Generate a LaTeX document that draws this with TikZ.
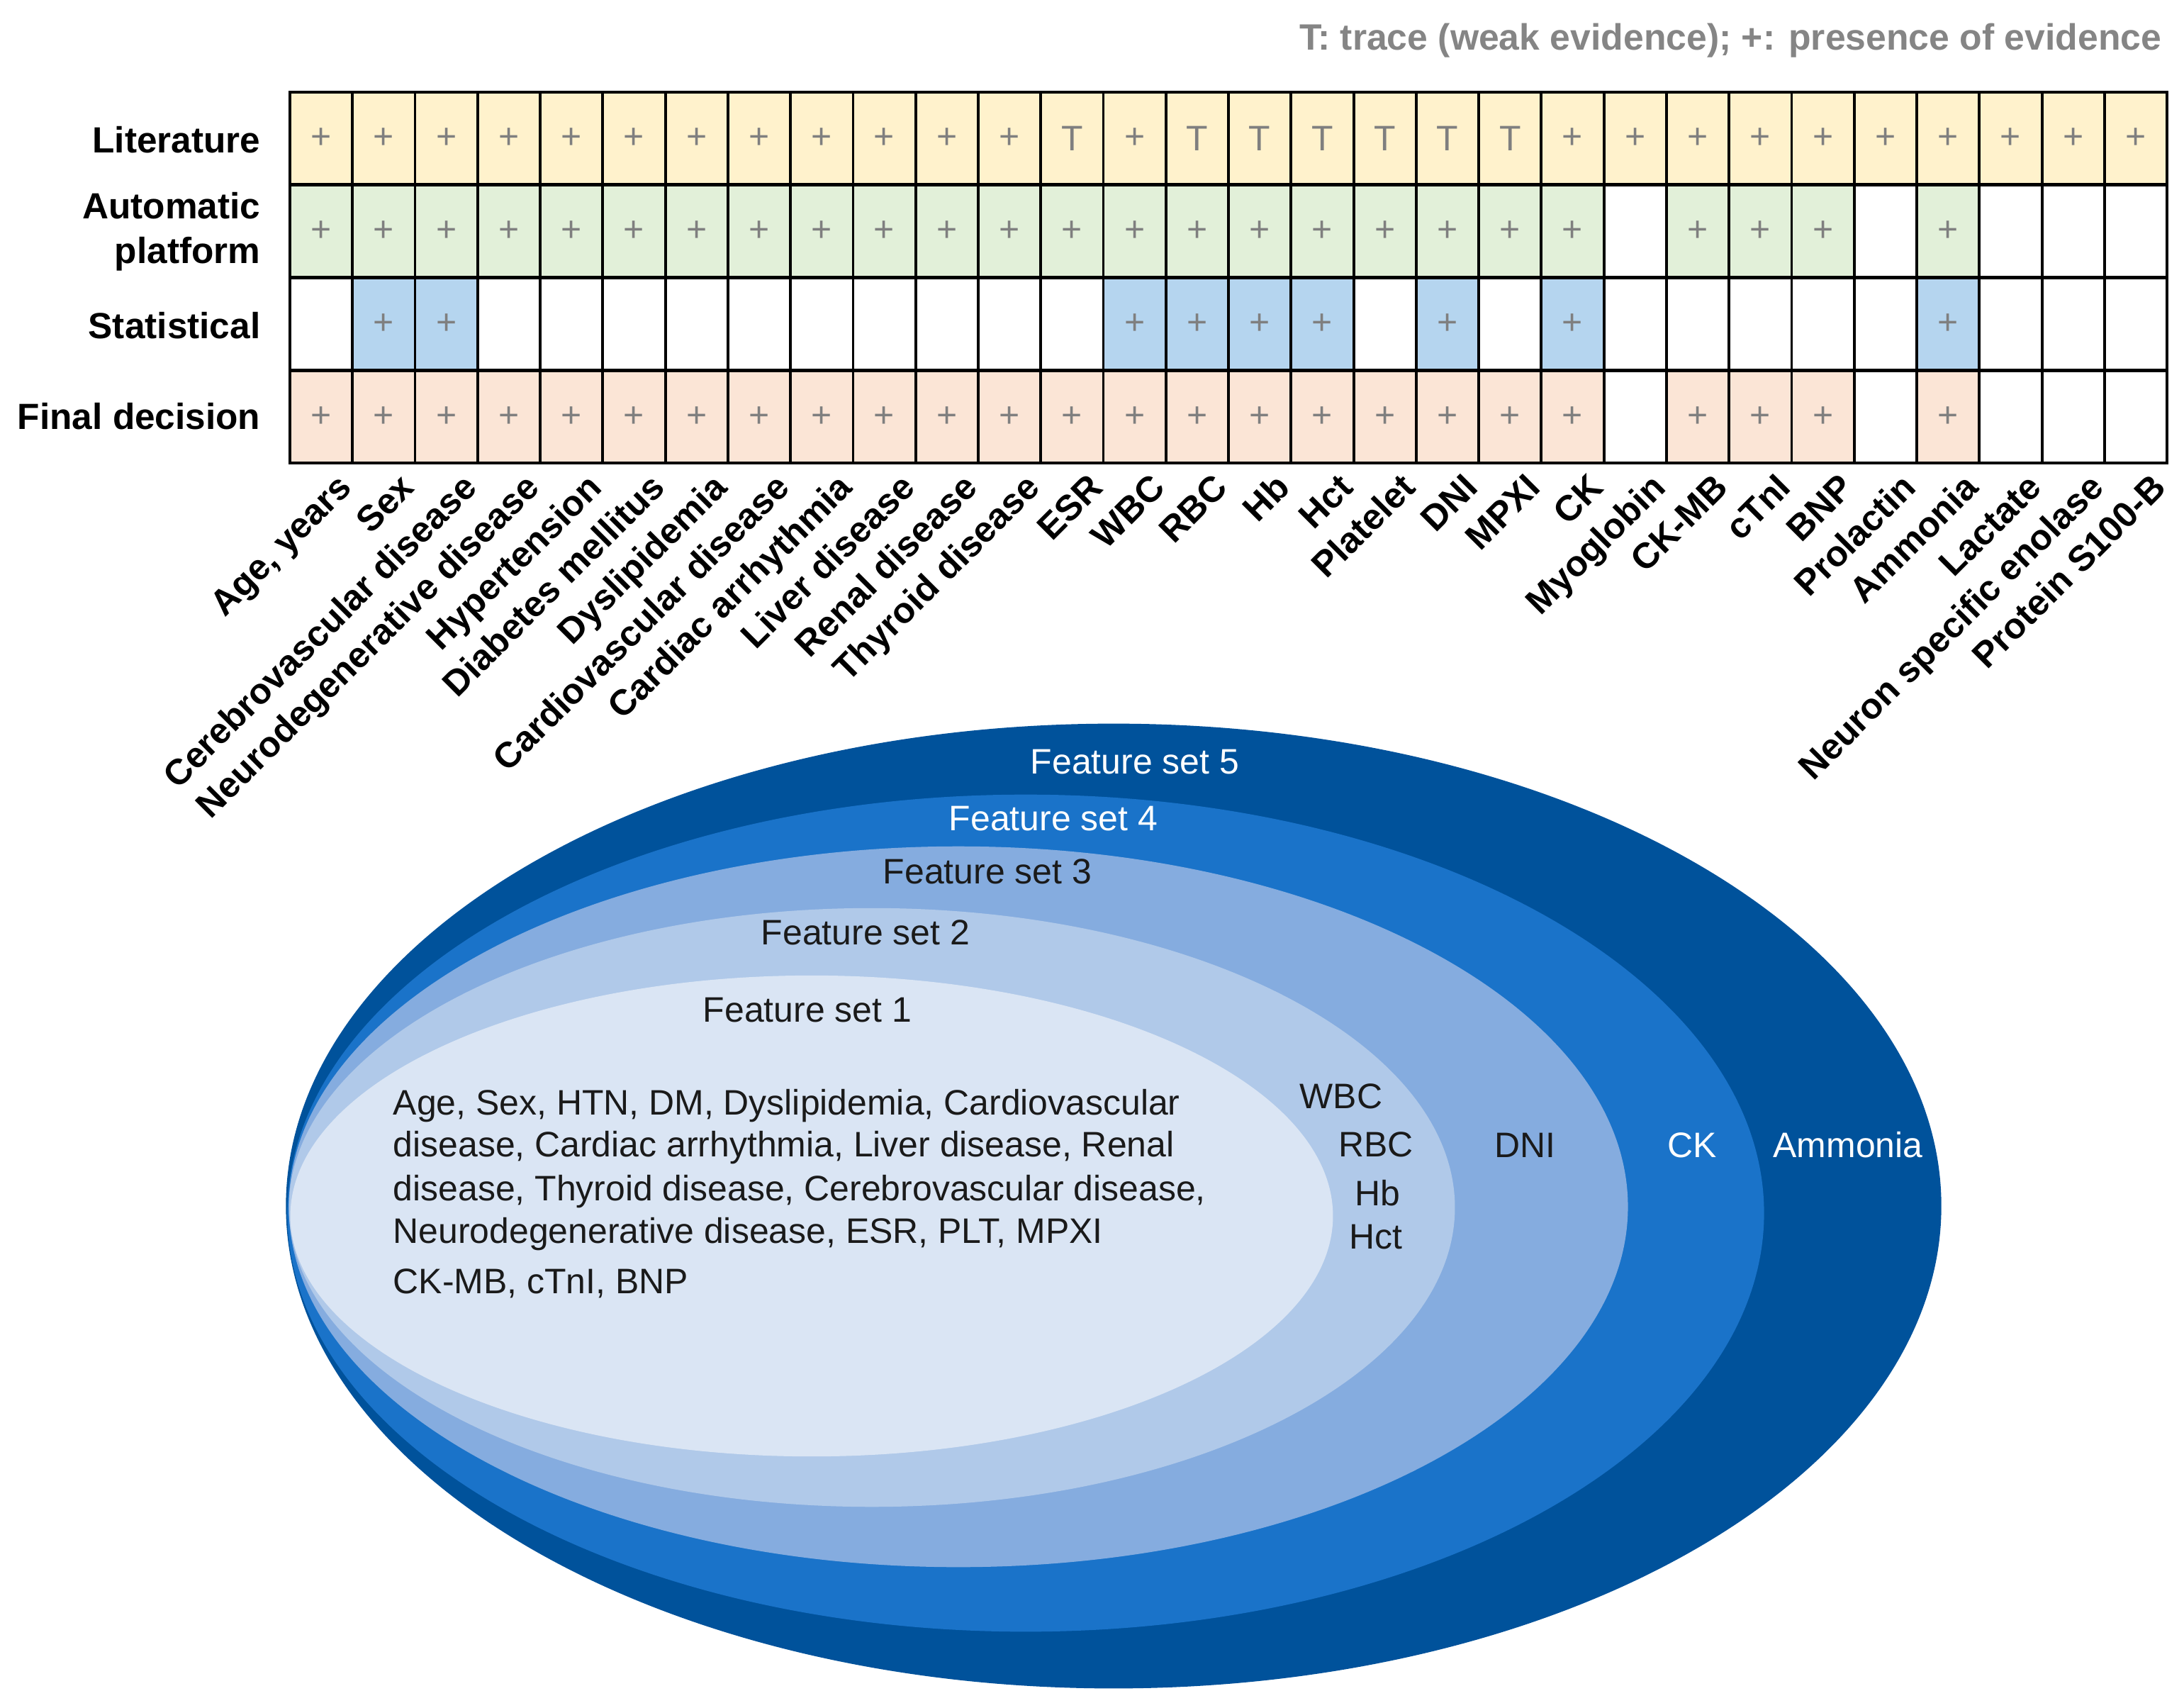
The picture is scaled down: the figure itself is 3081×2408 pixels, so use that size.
\documentclass[tikz,border=0pt]{standalone}
\usepackage{fontspec}
\setmainfont{Liberation Sans}
\definecolor{litc}{HTML}{FFF2CC}
\definecolor{autc}{HTML}{E2F0D9}
\definecolor{stac}{HTML}{B5D5EF}
\definecolor{finc}{HTML}{FBE5D6}
\definecolor{symgray}{HTML}{7F7F7F}
\definecolor{leggray}{HTML}{858585}
\definecolor{darktext}{HTML}{1A1A1A}
\definecolor{fsA}{HTML}{DAE5F4}
\definecolor{fsB}{HTML}{B0C9E9}
\definecolor{fsC}{HTML}{85ACDF}
\definecolor{fsD}{HTML}{1A73C9}
\definecolor{fsE}{HTML}{00529B}
\newcommand\mkrow[3]{%
  \foreach \v [count=\i] in {#3}{%
    \coordinate (c-#1-\i) at ({409+(\i-0.5)*88.27},{130+(#1+0.5)*130.75});
    \if\v-\else
      \fill[#2] ({409+(\i-1)*88.27},{130+#1*130.75}) rectangle ++(88.27,130.75);
      \node[cellsym] (m-#1-\i) at (c-#1-\i) {\v};
    \fi
  }%
}
\begin{document}
\begin{tikzpicture}[x=0.01cm,y=-0.01cm,
  cellsym/.style={font=\fontsize{14.2}{17}\selectfont, text=symgray, inner sep=0pt},
  rowlab/.style={font=\fontsize{14.6}{17.9}\selectfont\bfseries, inner sep=0pt, anchor=base east},
  collab/.style={font=\fontsize{14.4}{17}\selectfont\bfseries, inner sep=0pt, anchor=base east, rotate=45},
  fstext/.style={font=\fontsize{14.2}{17}\selectfont, inner sep=0pt, anchor=base, text=darktext},
  fswhite/.style={fstext, text=white},
  bodytext/.style={fstext, anchor=base west},
  gridline/.style={line width=1.1pt, black},
  hline/.style={line width=1.3pt, black}]
\useasboundingbox (0,0) rectangle (3081,2408);

% legend
\node[font=\fontsize{14.7}{17}\selectfont\bfseries, text=leggray, inner sep=0pt, anchor=base east] (legend) at (3050,70) {T: trace (weak evidence); +: presence of evidence};

% table rows
\mkrow{0}{litc}{+,+,+,+,+,+,+,+,+,+,+,+,T,+,T,T,T,T,T,T,+,+,+,+,+,+,+,+,+,+}
\mkrow{1}{autc}{+,+,+,+,+,+,+,+,+,+,+,+,+,+,+,+,+,+,+,+,+,-,+,+,+,-,+,-,-,-}
\mkrow{2}{stac}{-,+,+,-,-,-,-,-,-,-,-,-,-,+,+,+,+,-,+,-,+,-,-,-,-,-,+,-,-,-}
\mkrow{3}{finc}{+,+,+,+,+,+,+,+,+,+,+,+,+,+,+,+,+,+,+,+,+,-,+,+,+,-,+,-,-,-}

% grid
\foreach \k in {1,...,29} \draw[gridline] ({409+\k*88.27},130) -- ({409+\k*88.27},653);
\foreach \r in {1,2,3} \draw[hline] (409,{130+\r*130.75}) -- (3057,{130+\r*130.75});
\draw[hline] (409,130) rectangle (3057,653);

% row labels
\node[rowlab] (r-lit) at (368,215) {Literature};
\node[rowlab, anchor=east, align=right] (r-aut) at (368,327) {Automatic\\platform};
\node[rowlab] (r-sta) at (368,477) {Statistical};
\node[rowlab] (r-fin) at (368,605) {Final decision};

% column labels
\foreach \lab [count=\i] in {{Age, years},Sex,Cerebrovascular disease,Neurodegenerative disease,Hypertension,Diabetes mellitus,Dyslipidemia,Cardiovascular disease,Cardiac arrhythmia,Liver disease,Renal disease,Thyroid disease,ESR,WBC,RBC,Hb,Hct,Platelet,DNI,MPXI,CK,Myoglobin,CK-MB,cTnI,BNP,Prolactin,Ammonia,Lactate,Neuron specific enolase,Protein S100-B}
  \node[collab] (lab-\i) at ({409+(\i-0.5)*88.27+46},690) {\lab};

% nested feature-set ellipses
\fill[fsE] (1571,1701) ellipse [x radius=11.67cm, y radius=6.80cm];
\fill[fsD] (1447,1711) ellipse [x radius=10.41cm, y radius=5.90cm];
\fill[fsC] (1352,1702) ellipse [x radius=9.44cm, y radius=5.08cm];
\fill[fsB] (1230,1703) ellipse [x radius=8.22cm, y radius=4.22cm];
\fill[fsA] (1145,1715) ellipse [x radius=7.35cm, y radius=3.39cm];

\node[fswhite] (fs5) at (1601,1091) {Feature set 5};
\node[fswhite] (fs4) at (1486,1171) {Feature set 4};
\node[fstext] (fs3) at (1393,1246) {Feature set 3};
\node[fstext] (fs2) at (1221,1332) {Feature set 2};
\node[fstext] (fs1) at (1139,1441) {Feature set 1};

\node[bodytext] (b1) at (554,1572) {Age, Sex, HTN, DM, Dyslipidemia, Cardiovascular};
\node[bodytext] (b2) at (554,1631) {disease, Cardiac arrhythmia, Liver disease, Renal};
\node[bodytext] (b3) at (554,1693) {disease, Thyroid disease, Cerebrovascular disease,};
\node[bodytext] (b4) at (554,1753) {Neurodegenerative disease, ESR, PLT, MPXI};
\node[bodytext] (b5) at (554,1824) {CK-MB, cTnI, BNP};

\node[fstext] (wbc) at (1892,1563) {WBC};
\node[fstext] (rbc) at (1941,1631) {RBC};
\node[fstext] (hb) at (1943,1700) {Hb};
\node[fstext] (hct) at (1941,1761) {Hct};
\node[fstext] (dni) at (2151,1632) {DNI};
\node[fswhite] (ck) at (2387,1632) {CK};
\node[fswhite] (amm) at (2607,1632) {Ammonia};
\end{tikzpicture}
\end{document}
